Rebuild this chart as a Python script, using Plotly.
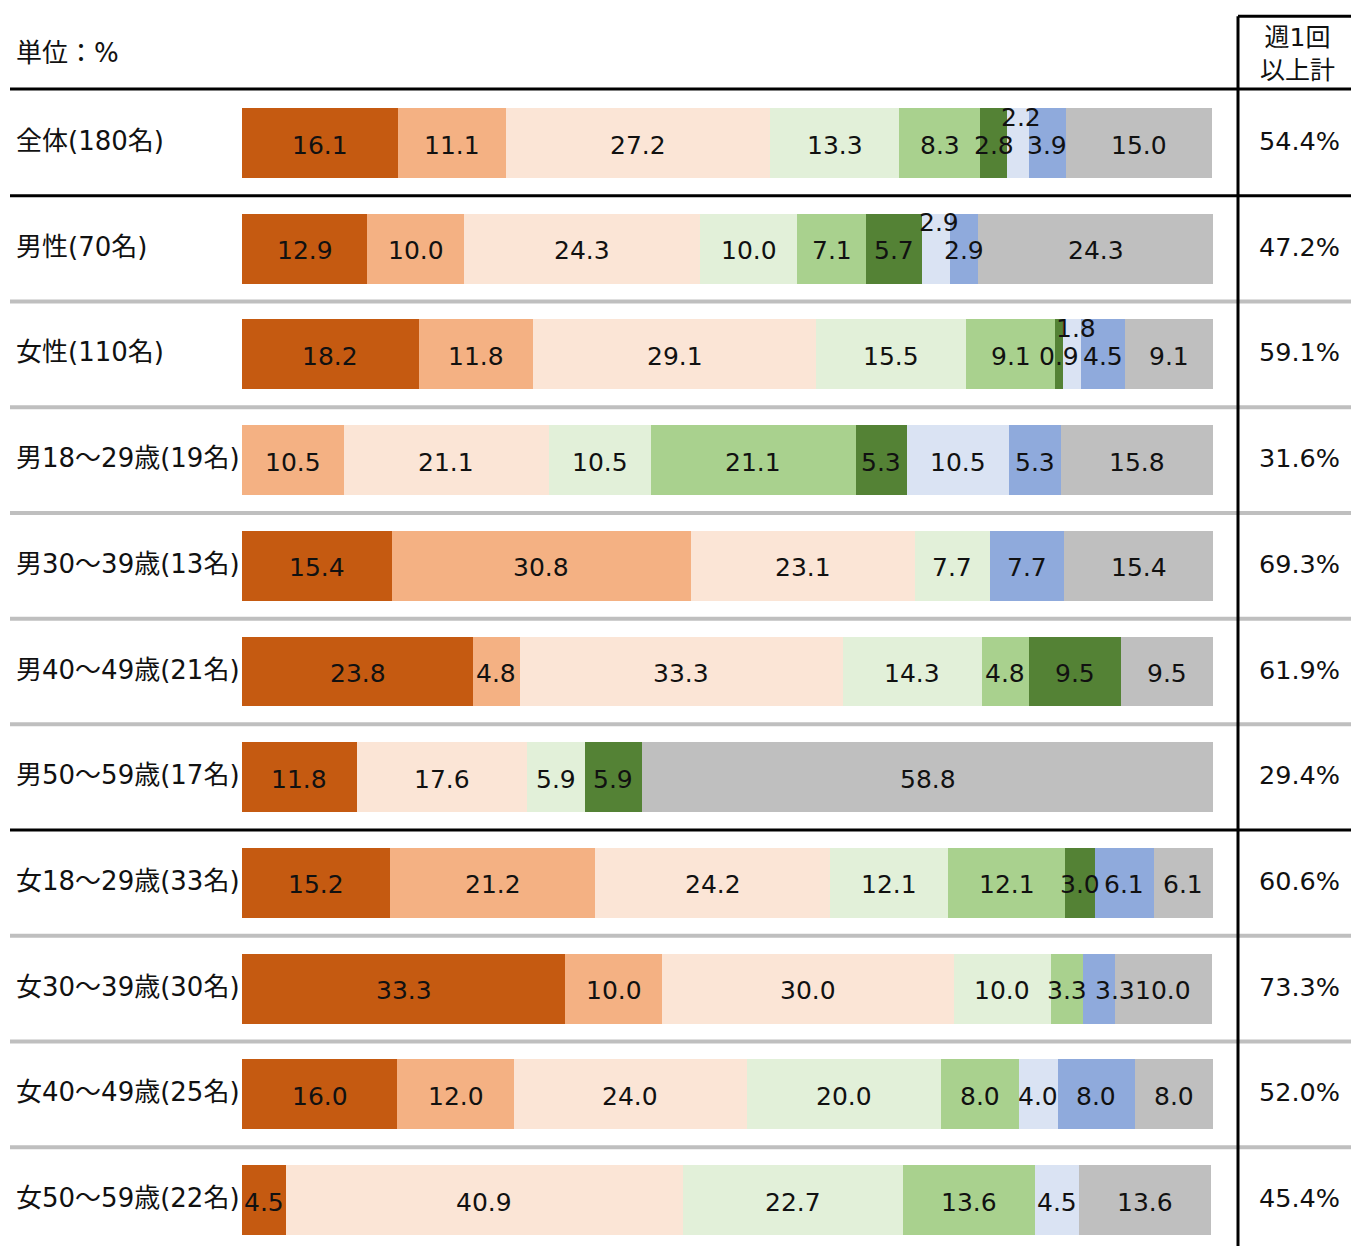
import plotly.graph_objects as go
import numpy as np

# ---------------- data ----------------
rows = ["全体(180名)", "男性(70名)", "女性(110名)",
        "男18～29歳(19名)", "男30～39歳(13名)", "男40～49歳(21名)", "男50～59歳(17名)",
        "女18～29歳(33名)", "女30～39歳(30名)", "女40～49歳(25名)", "女50～59歳(22名)"]

series_names = ["区分1", "区分2", "区分3", "区分4", "区分5", "区分6", "区分7", "区分8", "区分9"]

s1 = [16.1, 12.9, 18.2, 0.0, 15.4, 23.8, 11.8, 15.2, 33.3, 16.0, 4.5]
s2 = [11.1, 10.0, 11.8, 10.5, 30.8, 4.8, 0.0, 21.2, 10.0, 12.0, 0.0]
s3 = [27.2, 24.3, 29.1, 21.1, 23.1, 33.3, 17.6, 24.2, 30.0, 24.0, 40.9]
s4 = [13.3, 10.0, 15.5, 10.5, 7.7, 14.3, 5.9, 12.1, 10.0, 20.0, 22.7]
s5 = [8.3, 7.1, 9.1, 21.1, 0.0, 4.8, 0.0, 12.1, 3.3, 8.0, 13.6]
s6 = [2.8, 5.7, 0.9, 5.3, 0.0, 9.5, 5.9, 3.0, 0.0, 0.0, 0.0]
s7 = [2.2, 2.9, 1.8, 10.5, 0.0, 0.0, 0.0, 0.0, 0.0, 4.0, 4.5]
s8 = [3.9, 2.9, 4.5, 5.3, 7.7, 0.0, 0.0, 6.1, 3.3, 8.0, 0.0]
s9 = [15.0, 24.3, 9.1, 15.8, 15.4, 9.5, 58.8, 6.1, 10.0, 8.0, 13.6]

weekly = ["54.4%", "47.2%", "59.1%", "31.6%", "69.3%", "61.9%", "29.4%",
          "60.6%", "73.3%", "52.0%", "45.4%"]

unit_label = "単位：%"
weekly_header = "週1回<br>以上計"

# ---------------- styles ----------------
colors = ["#C55A11", "#F4B183", "#FBE5D6", "#E2F0D9", "#A9D18E",
          "#548235", "#DAE3F3", "#8FAADC", "#BFBFBF"]
# label offsets (px) for crowded small segments: (row, series) -> (xshift, yshift)
label_shift = {(0, 6): (3, 28), (1, 6): (3, 28), (2, 6): (4, 28), (8, 7): (16, 0)}

W, H = 1351, 1246
FONT = "DejaVu Sans, Noto Sans CJK JP, sans-serif"
FS = 25

series = [s1, s2, s3, s4, s5, s6, s7, s8, s9]
yidx = list(range(len(rows)))

fig = go.Figure()
for name, vals, col in zip(series_names, series, colors):
    fig.add_trace(go.Bar(
        x=vals, y=yidx, orientation="h", name=name,
        marker=dict(color=col, line=dict(width=0)),
        hoverinfo="x+name",
    ))

annotations = []
cum = np.zeros(len(rows))
for si, vals in enumerate(series):
    v = np.array(vals)
    centers = cum + v / 2
    for ri in range(len(rows)):
        if v[ri] > 0:
            xs, ys = label_shift.get((ri, si), (0, 0))
            annotations.append(dict(
                x=centers[ri], y=ri, xref="x", yref="y",
                text=f"{v[ri]:.1f}", showarrow=False,
                font=dict(family=FONT, size=FS, color="#111111"),
                xanchor="center", yanchor="middle",
                xshift=xs, yshift=ys - 2))
    cum = cum + v

for ri, name in enumerate(rows):
    annotations.append(dict(
        x=14 / W, y=ri, xref="paper", yref="y", text=name, showarrow=False,
        font=dict(family=FONT, size=26, color="#111111"),
        xanchor="left", yanchor="middle", yshift=2))
    annotations.append(dict(
        x=1299 / W, y=ri, xref="paper", yref="y", text=weekly[ri], showarrow=False,
        font=dict(family=FONT, size=25.5, color="#111111"),
        xanchor="center", yanchor="middle", yshift=2))

annotations.append(dict(
    x=14 / W, y=-0.851, xref="paper", yref="y", text=unit_label, showarrow=False,
    font=dict(family=FONT, size=26, color="#111111"),
    xanchor="left", yanchor="middle"))
annotations.append(dict(
    x=1297 / W, y=-0.84, xref="paper", yref="y", text=weekly_header, showarrow=False,
    font=dict(family=FONT, size=25, color="#111111"),
    xanchor="center", yanchor="middle"))

shapes = []
x0 = 10 / W
# header line and row separators
black_after = {0, 6}
shapes.append(dict(type="line", xref="paper", yref="y", x0=x0, x1=1, y0=-0.51, y1=-0.51,
                   line=dict(color="#000000", width=3)))
for ri in range(len(rows) - 1):
    yy = ri + 0.5
    if ri in black_after:
        line = dict(color="#000000", width=3)
    else:
        line = dict(color="#BFBFBF", width=4)
    shapes.append(dict(type="line", xref="paper", yref="y", x0=x0, x1=1, y0=yy, y1=yy, line=line))
# right column box
xv = 1238 / W
shapes.append(dict(type="line", xref="paper", yref="y", x0=xv, x1=xv, y0=-1.2, y1=10.5,
                   line=dict(color="#000000", width=3)))
shapes.append(dict(type="line", xref="paper", yref="y", x0=xv, x1=1, y0=-1.2, y1=-1.2,
                   line=dict(color="#000000", width=3)))

fig.update_layout(
    width=W, height=H,
    margin=dict(l=0, r=0, t=0, b=0),
    barmode="stack", bargap=0.338,
    plot_bgcolor="white", paper_bgcolor="white",
    showlegend=False,
    xaxis=dict(range=[0, 100], domain=[242 / W, 1213 / W], visible=False, fixedrange=True),
    yaxis=dict(range=[(H - 143) / 105.7, -143 / 105.7], visible=False, fixedrange=True),
    annotations=annotations, shapes=shapes,
)

fig.write_html("out.html")
